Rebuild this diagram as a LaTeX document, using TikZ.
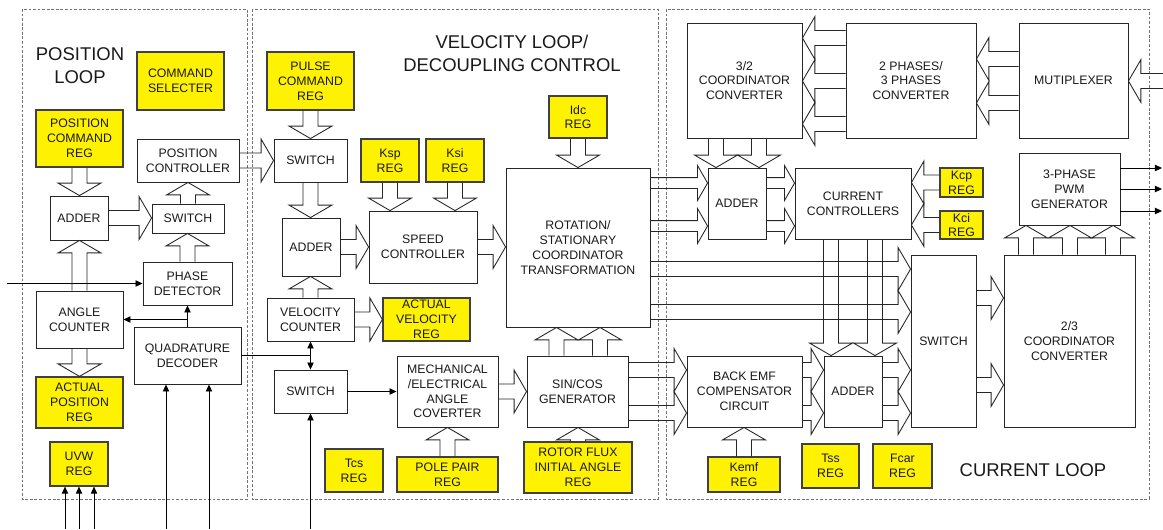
\documentclass[tikz,border=0pt]{standalone}
\usepackage{fontspec}
\setmainfont{Liberation Sans}
\usetikzlibrary{arrows.meta,calc}
\tikzset{
  box/.style={draw=black!85, line width=0.5pt, align=center, inner sep=0pt, text=black!90, font=\fontsize{7}{8.4}\selectfont},
  regbox/.style={box, fill=yellow, draw=black!75, line width=0.7pt},
  wh/.style 2 args={minimum width=#1*0.02cm, minimum height=#2*0.02cm},
  loopframe/.style={draw=black!55, line width=0.5pt, dash pattern=on 1.6pt off 1pt},
  looptitle/.style={align=center, text=black!90, font=\fontsize{10.5}{13}\selectfont},
  wire/.style={draw=black, line width=0.5pt, -{Triangle[length=4pt,width=3.6pt]}},
  wiretwo/.style={wire, {Triangle[length=4pt,width=3.6pt]}-{Triangle[length=4pt,width=3.6pt]}},
  barrow/.style={draw=black!85, line width=0.5pt, line join=miter},
  slim/.code={\def\sw{3.1pt}\def\hw{9.9pt}\def\hl{5.7pt}}
}
\def\sw{4.25pt}\def\hw{12.2pt}\def\hl{7.1pt}
% hollow block arrows, tail -> tip
\newcommand{\hblk}[3][]{%
  \draw[barrow,#1] let \p1=#2, \p2=#3, \p3=($#3!\hl!#2$) in
    (\x1,\y1+\sw) -- (\x3,\y1+\sw) -- (\x3,\y1+\hw) -- (\x2,\y1)
    -- (\x3,\y1-\hw) -- (\x3,\y1-\sw) -- (\x1,\y1-\sw);}
\newcommand{\vblk}[3][]{%
  \draw[barrow,#1] let \p1=#2, \p2=#3, \p3=($#3!\hl!#2$) in
    (\x1-\sw,\y1) -- (\x1-\sw,\y3) -- (\x1-\hw,\y3) -- (\x1,\y2)
    -- (\x1+\hw,\y3) -- (\x1+\sw,\y3) -- (\x1+\sw,\y1);}

\begin{document}
\begin{tikzpicture}[x=0.02cm, y=-0.02cm]
\useasboundingbox (0,0) rectangle (1163,529);
\draw[loopframe] (22,9) rectangle (247,499);
\draw[loopframe] (252,9) rectangle (658,499);
\draw[loopframe] (666,9) rectangle (1149,499);
\node[looptitle] (tpos) at (80,66) {POSITION\\LOOP};
\node[looptitle] (tvel) at (512,53) {VELOCITY LOOP/\\DECOUPLING CONTROL};
\node[looptitle] (tcur) at (1033,470) {CURRENT LOOP};

% position loop
\node[regbox, wh={87}{58}] (cmdsel) at (180.5,81) {COMMAND\\SELECTER};
\node[regbox, wh={87}{57}] (poscmd) at (79.5,138.5) {POSITION\\COMMAND\\REG};
\node[box, wh={102}{43}] (posctl) at (188,160.5) {POSITION\\CONTROLLER};
\node[box, wh={58}{44}] (addP) at (79,218) {ADDER};
\node[box, wh={72}{29}] (swP) at (188,218.5) {SWITCH};
\node[box, wh={89}{43}] (phdet) at (187.5,283.5) {PHASE\\DETECTOR};
\node[box, wh={87}{57}] (angcnt) at (79.5,319.5) {ANGLE\\COUNTER};
\node[box, wh={107}{57}] (quad) at (187.5,355.5) {QUADRATURE\\DECODER};
\node[regbox, wh={87}{51}] (actpos) at (79.5,402.5) {ACTUAL\\POSITION\\REG};
\node[regbox, wh={58}{44}] (uvw) at (79,464) {UVW\\REG};

% velocity loop
\node[regbox, wh={87}{58}] (pulse) at (310.5,81) {PULSE\\COMMAND\\REG};
\node[box, wh={73}{43}] (swV) at (310.5,160.5) {SWITCH};
\node[regbox, wh={58}{43}] (ksp) at (390,160.5) {Ksp\\REG};
\node[regbox, wh={58}{43}] (ksi) at (455,160.5) {Ksi\\REG};
\node[box, wh={58}{58}] (addV) at (311,247) {ADDER};
\node[box, wh={108}{72}] (speed) at (423,247) {SPEED\\CONTROLLER};
\node[box, wh={87}{43}] (velcnt) at (310.5,319.5) {VELOCITY\\COUNTER};
\node[regbox, wh={87}{43}] (actvel) at (426.5,319.5) {ACTUAL\\VELOCITY\\REG};
\node[box, wh={73}{43}] (swV2) at (310.5,391.5) {SWITCH};
\node[box, wh={101}{71}] (mech) at (447.5,391.5) {MECHANICAL\\/ELECTRICAL\\ANGLE\\COVERTER};
\node[regbox, wh={58}{43}] (tcs) at (354,470.5) {Tcs\\REG};
\node[regbox, wh={101}{35}] (pole) at (447.5,474.5) {POLE PAIR\\REG};
\node[regbox, wh={58}{42}] (idc) at (578,117) {Idc\\REG};
\node[box, wh={144}{159}] (rot) at (578,247.5) {ROTATION/\\STATIONARY\\COORDINATOR\\TRANSFORMATION};
\node[box, wh={101}{71}] (sincos) at (577.5,391.5) {SIN/COS\\GENERATOR};
\node[regbox, wh={108}{51}] (flux) at (578,467.5) {ROTOR FLUX\\INITIAL ANGLE\\REG};

% current loop
\node[box, wh={115}{115}] (c32) at (744.5,80.5) {3/2\\COORDINATOR\\CONVERTER};
\node[box, wh={130}{115}] (ph23) at (911,80.5) {2 PHASES/\\3 PHASES\\CONVERTER};
\node[box, wh={109}{115}] (mux) at (1073.5,80.5) {MUTIPLEXER};
\node[box, wh={58}{71}] (addC) at (737,203.5) {ADDER};
\node[box, wh={116}{71}] (curctl) at (853,203.5) {CURRENT\\CONTROLLERS};
\node[regbox, wh={43}{29}] (kcp) at (961.5,182.5) {Kcp\\REG};
\node[regbox, wh={43}{28}] (kci) at (961.5,225) {Kci\\REG};
\node[box, wh={101}{72}] (pwm) at (1069.5,189) {3-PHASE\\PWM\\GENERATOR};
\node[box, wh={65}{172}] (swC) at (943.5,341) {SWITCH};
\node[box, wh={131}{172}] (c23) at (1069.5,341) {2/3\\COORDINATOR\\CONVERTER};
\node[box, wh={115}{71}] (bemf) at (744.5,391.5) {BACK EMF\\COMPENSATOR\\CIRCUIT};
\node[box, wh={58}{71}] (addC2) at (853,391.5) {ADDER};
\node[regbox, wh={72}{35}] (kemf) at (744,474.5) {Kemf\\REG};
\node[regbox, wh={57}{44}] (tss) at (830.5,466) {Tss\\REG};
\node[regbox, wh={59}{44}] (fcar) at (902.5,466) {Fcar\\REG};

% signal lines
\coordinate (pdin) at (7,283.5);
\draw[wire] (pdin) -- (phdet.west);
\draw[wire] (quad.north) -- (phdet.south);
\draw[wire] (quad.north |- angcnt.east) -- (angcnt.east);
\coordinate (qjoin) at (velcnt.south |- quad.east);
\draw[line width=0.5pt] (quad.east) -- (qjoin);
\draw[wiretwo] (velcnt.south) -- (swV2.north);
\foreach \col [count=\i] in {65,79,94} {
  \coordinate (uin\i) at (\col,529);
  \draw[wire] (uin\i) -- (uin\i |- uvw.south);
}
\foreach \col [count=\i] in {166,209} {
  \coordinate (qin\i) at (\col,529);
  \draw[wire] (qin\i) -- (qin\i |- quad.south);
}
\coordinate (swin) at (swV2.south |- 0,529);
\draw[wire] (swin) -- (swV2.south);
\draw[wire] (swV2.east) -- (mech.west);
\foreach \row [count=\i] in {168,189,211} {
  \coordinate (pout\i) at (1162,\row);
  \draw[wire] (pwm.east |- pout\i) -- (pout\i);
}

% block arrows
\vblk{(poscmd.south)}{(poscmd.south |- addP.north)}
\vblk{(angcnt.north)}{(angcnt.north |- addP.south)}
\vblk{(angcnt.south)}{(actpos.north)}
\hblk{(addP.east)}{(swP.west |- addP.east)}
\vblk{(swP.north)}{(swP.north |- posctl.south)}
\vblk{(phdet.north)}{(phdet.north |- swP.south)}
\hblk{(posctl.east)}{(swV.west |- posctl.east)}
\vblk{(pulse.south)}{(pulse.south |- swV.north)}
\vblk{(swV.south)}{(swV.south |- addV.north)}
\vblk{(ksp.south)}{(ksp.south |- speed.north)}
\vblk{(ksi.south)}{(ksi.south |- speed.north)}
\hblk{(addV.east)}{(addV.east -| speed.west)}
\hblk{(speed.east)}{(speed.east -| rot.west)}
\vblk{(velcnt.north)}{(velcnt.north |- addV.south)}
\hblk{(velcnt.east)}{(velcnt.east -| actvel.west)}
\vblk{(pole.north)}{(pole.north |- mech.south)}
\hblk{(mech.east)}{(mech.east -| sincos.west)}
\vblk{(idc.south)}{(idc.south |- rot.north)}
\foreach \col in {556.5,600} {\vblk{(sincos.north -| \col,0)}{(rot.south -| \col,0)}}
\vblk{(flux.north)}{(flux.north |- sincos.south)}
\foreach \row in {370,413} {\hblk{(sincos.east |- 0,\row)}{(bemf.west |- 0,\row)}}
\foreach \row in {183,226} {\hblk[slim]{(rot.east |- 0,\row)}{(addC.west |- 0,\row)}}
\foreach \row in {183,226} {\hblk[slim]{(addC.east |- 0,\row)}{(curctl.west |- 0,\row)}}
\foreach \row in {38,81,124} {\hblk{(ph23.west |- 0,\row)}{(c32.east |- 0,\row)}}
\foreach \row in {59,103} {\hblk{(mux.west |- 0,\row)}{(ph23.east |- 0,\row)}}
\coordinate (muxin) at (1163,81);
\hblk{(muxin)}{(mux.east |- muxin)}
\foreach \col in {716,759} {\vblk{(c32.south -| \col,0)}{(addC.north -| \col,0)}}
\hblk{(kcp.west)}{(curctl.east |- kcp.west)}
\hblk{(kci.west)}{(curctl.east |- kci.west)}
\foreach \col in {831,875} {\vblk{(curctl.south -| \col,0)}{(addC2.north -| \col,0)}}
\foreach \row in {269,312} {\hblk{(rot.east |- 0,\row)}{(swC.west |- 0,\row)}}
\foreach \row in {370,413} {\hblk{(bemf.east |- 0,\row)}{(addC2.west |- 0,\row)}}
\foreach \row in {370,413} {\hblk{(addC2.east |- 0,\row)}{(swC.west |- 0,\row)}}
\vblk{(kemf.north)}{(kemf.north |- bemf.south)}
\foreach \row in {298,385} {\hblk{(swC.east |- 0,\row)}{(c23.west |- 0,\row)}}
\foreach \col in {1026,1070,1113} {\vblk{(c23.north -| \col,0)}{(pwm.south -| \col,0)}}
\end{tikzpicture}
\end{document}
